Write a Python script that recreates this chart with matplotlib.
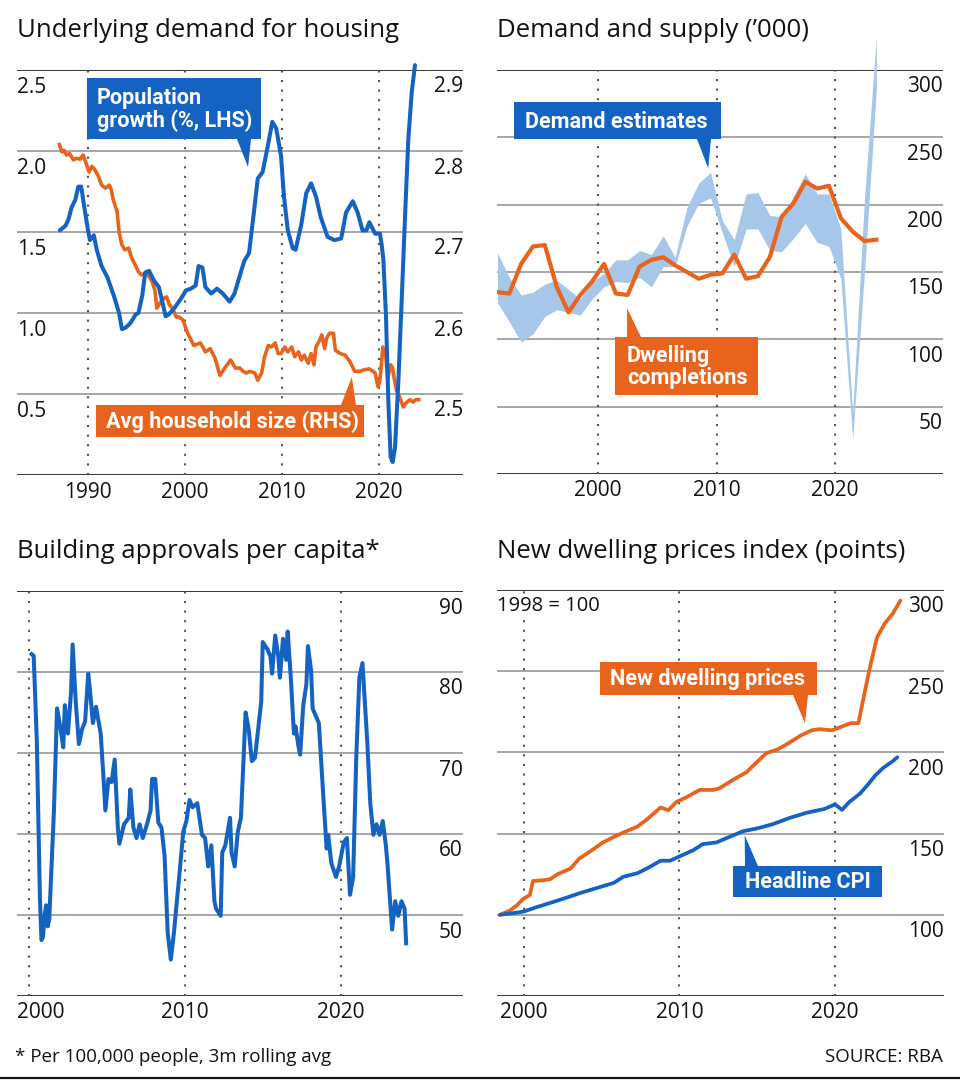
import matplotlib
matplotlib.use("Agg")
import matplotlib.pyplot as plt
from matplotlib.patches import Polygon

# ---------------- data ----------------
# Underlying demand: population growth (% , LHS)
pop_years = [1987.1, 1987.7, 1988.0, 1988.3, 1988.7, 1989.0, 1989.3, 1989.6, 1990.0, 1990.2,
             1990.6, 1990.9, 1991.4, 1992.0, 1992.7, 1993.2, 1993.5, 1993.9, 1994.4, 1994.9,
             1995.2, 1995.6, 1995.9, 1996.3, 1996.8, 1997.3, 1997.7, 1998.0, 1998.3, 1998.9,
             1999.6, 2000.1, 2000.6, 2001.1, 2001.4, 2001.8, 2002.1, 2002.7, 2003.3, 2003.9,
             2004.6, 2005.1, 2005.6, 2006.1, 2006.6, 2007.1, 2007.5, 2008.0, 2008.5, 2009.0,
             2009.4, 2009.9, 2010.2, 2010.6, 2011.1, 2011.4, 2012.0, 2012.5, 2013.0, 2013.5,
             2014.0, 2014.7, 2015.4, 2016.1, 2016.6, 2017.3, 2017.8, 2018.3, 2018.7, 2019.0,
             2019.6, 2020.1, 2020.3, 2020.45, 2020.72, 2020.96, 2021.2, 2021.41, 2021.65, 2021.99,
             2022.34, 2022.68, 2023.02, 2023.37, 2023.71]
pop_growth = [1.51, 1.54, 1.58, 1.65, 1.70, 1.78, 1.78, 1.66, 1.51, 1.45,
              1.48, 1.39, 1.29, 1.22, 1.10, 1.00, 0.90, 0.91, 0.94, 0.99,
              1.00, 1.11, 1.25, 1.26, 1.20, 1.16, 1.06, 0.98, 0.99, 1.03,
              1.09, 1.14, 1.15, 1.17, 1.29, 1.28, 1.16, 1.12, 1.15, 1.12,
              1.07, 1.12, 1.22, 1.32, 1.37, 1.62, 1.83, 1.87, 2.02, 2.18,
              2.14, 1.97, 1.72, 1.51, 1.40, 1.39, 1.55, 1.74, 1.80, 1.72,
              1.59, 1.47, 1.45, 1.46, 1.62, 1.69, 1.62, 1.51, 1.51, 1.56,
              1.49, 1.49, 1.41, 1.33, 0.98, 0.46, 0.11, 0.08, 0.17, 0.57,
              1.08, 1.59, 2.07, 2.36, 2.53]

# Average household size (RHS)
hh_years = [1987.05, 1987.3, 1987.5, 1987.8, 1988.1, 1988.5, 1988.8, 1989.2, 1989.5, 1989.8,
            1990.1, 1990.4, 1990.7, 1991.1, 1991.4, 1991.8, 1992.2, 1992.4, 1992.6, 1993.0,
            1993.2, 1993.5, 1993.8, 1994.2, 1994.5, 1994.8, 1995.2, 1995.5, 1995.9, 1996.2,
            1996.6, 1996.9, 1997.1, 1997.4, 1997.8, 1998.1, 1998.4, 1998.7, 1999.1, 1999.4,
            1999.8, 2000.2, 2000.9, 2001.6, 2002.1, 2002.6, 2003.1, 2003.6, 2004.1, 2004.7,
            2005.2, 2005.65, 2006.0, 2006.3, 2006.7, 2007.2, 2007.5, 2007.9, 2008.2, 2008.6,
            2008.9, 2009.3, 2009.6, 2009.9, 2010.3, 2010.6, 2011.0, 2011.3, 2011.7, 2012.0,
            2012.3, 2012.7, 2013.0, 2013.3, 2013.5, 2013.9, 2014.1, 2014.4, 2014.6, 2014.9,
            2015.3, 2015.5, 2016.0, 2016.5, 2017.0, 2017.5, 2018.0, 2018.5, 2019.0, 2019.6,
            2019.9, 2020.1, 2020.4, 2020.7, 2020.9, 2021.2, 2021.4, 2021.6, 2021.8, 2022.1,
            2022.5, 2022.8, 2023.2, 2023.5, 2023.8, 2024.1]
hh_size = [2.808, 2.799, 2.801, 2.795, 2.797, 2.789, 2.791, 2.790, 2.795, 2.785,
           2.774, 2.781, 2.777, 2.768, 2.758, 2.754, 2.758, 2.752, 2.740, 2.725,
           2.700, 2.684, 2.678, 2.680, 2.668, 2.661, 2.651, 2.647, 2.649, 2.647,
           2.639, 2.628, 2.606, 2.612, 2.618, 2.620, 2.610, 2.606, 2.595, 2.595,
           2.591, 2.577, 2.560, 2.563, 2.552, 2.556, 2.544, 2.523, 2.532, 2.542,
           2.532, 2.532, 2.528, 2.526, 2.528, 2.526, 2.517, 2.526, 2.546, 2.560,
           2.558, 2.563, 2.550, 2.550, 2.558, 2.552, 2.558, 2.546, 2.552, 2.542,
           2.548, 2.538, 2.550, 2.536, 2.558, 2.567, 2.573, 2.556, 2.569, 2.575,
           2.575, 2.554, 2.550, 2.548, 2.540, 2.528, 2.528, 2.530, 2.531, 2.526,
           2.509, 2.517, 2.558, 2.546, 2.519, 2.536, 2.532, 2.517, 2.505, 2.497,
           2.484, 2.489, 2.493, 2.490, 2.493, 2.493]

# Demand and supply ('000), financial-year midpoints
ds_years = [1991.5 + i for i in range(33)]
completions = [135, 134, 156, 169, 170, 139, 120, 133, 143, 156,
               134, 133, 154, 159, 161, 155, 150, 145, 148, 149,
               163, 145, 147, 161, 191, 201, 217, 212, 214, 190,
               180, 173, 174]
demand_high = [164, 146, 133, 135, 141, 144, 137, 130, 143, 149,
               159, 159, 166, 163, 177, 161, 198, 216, 224, 188,
               174, 208, 209, 192, 191, 206, 223, 208, 208, 182,
               45, 205, 325]
demand_low = [127, 113, 98, 104, 117, 122, 120, 118, 130, 139,
              143, 142, 146, 139, 154, 154, 184, 201, 205, 179,
              154, 182, 182, 166, 165, 175, 186, 172, 169, 145,
              26, 150, 285]

# Building approvals per 100,000 people (3m rolling avg)
ba_years = [2000.17, 2000.3, 2000.5, 2000.7, 2000.8, 2000.9, 2001.0, 2001.1, 2001.2, 2001.3,
            2001.6, 2001.8, 2002.0, 2002.2, 2002.3, 2002.5, 2002.7, 2002.8, 2003.0, 2003.2,
            2003.4, 2003.6, 2003.8, 2003.9, 2004.1, 2004.3, 2004.6, 2004.8, 2004.9, 2005.1,
            2005.3, 2005.5, 2005.7, 2005.8, 2006.1, 2006.4, 2006.5, 2006.7, 2006.9, 2007.1,
            2007.3, 2007.6, 2007.8, 2007.9, 2008.1, 2008.3, 2008.5, 2008.7, 2008.9, 2009.1,
            2009.3, 2009.4, 2009.7, 2009.9, 2010.1, 2010.3, 2010.5, 2010.8, 2010.9, 2011.1,
            2011.3, 2011.5, 2011.7, 2011.9, 2012.0, 2012.3, 2012.4, 2012.6, 2012.9, 2013.0,
            2013.2, 2013.4, 2013.6, 2013.9, 2014.1, 2014.3, 2014.5, 2014.7, 2014.9, 2015.0,
            2015.3, 2015.5, 2015.6, 2015.8, 2016.0, 2016.1, 2016.3, 2016.5, 2016.6, 2016.8,
            2017.0, 2017.1, 2017.3, 2017.4, 2017.6, 2017.8, 2017.9, 2018.1, 2018.2, 2018.4,
            2018.6, 2018.9, 2019.1, 2019.2, 2019.4, 2019.7, 2019.9, 2020.2, 2020.4, 2020.6,
            2020.8, 2021.0, 2021.2, 2021.4, 2021.7, 2021.9, 2022.1, 2022.3, 2022.5, 2022.7,
            2022.9, 2023.0, 2023.3, 2023.5, 2023.7, 2023.9, 2024.1, 2024.2]
approvals = [82.2, 82.0, 71.6, 52.1, 46.9, 47.3, 49.9, 51.2, 48.6, 49.5,
             62.9, 75.5, 73.3, 70.7, 75.9, 72.4, 77.6, 83.4, 76.3, 71.1,
             72.9, 73.9, 79.8, 78.0, 73.7, 75.7, 72.4, 66.4, 62.9, 66.8,
             66.4, 69.2, 60.8, 58.8, 61.2, 62.0, 65.5, 60.8, 59.5, 61.2,
             59.5, 61.4, 62.9, 66.8, 66.8, 61.4, 60.8, 57.3, 47.8, 44.5,
             47.8, 49.9, 56.0, 60.3, 61.6, 64.2, 63.3, 63.8, 62.5, 59.9,
             59.5, 56.0, 58.6, 51.7, 50.8, 49.9, 57.7, 58.6, 62.0, 57.7,
             56.0, 60.3, 62.0, 75.0, 72.9, 69.0, 69.4, 72.9, 76.3, 83.7,
             82.8, 81.9, 79.8, 84.5, 81.9, 79.3, 84.1, 81.5, 85.0, 79.3,
             72.4, 73.3, 70.7, 69.8, 75.9, 78.5, 83.2, 80.2, 75.5, 74.6,
             73.7, 64.2, 58.2, 59.9, 56.4, 54.7, 56.0, 59.0, 59.5, 52.5,
             54.7, 69.4, 79.3, 81.1, 71.6, 63.8, 59.9, 61.2, 59.9, 61.6,
             58.6, 56.4, 48.2, 51.7, 49.9, 51.7, 50.8, 46.5]

# New dwelling prices index vs headline CPI (1998 = 100)
ndp_years = [1998.48, 1999.1, 1999.55, 2000.0, 2000.4, 2000.6, 2001.2, 2001.7, 2002.2, 2003.0,
             2003.6, 2004.3, 2005.1, 2006.0, 2006.6, 2007.3, 2007.9, 2008.8, 2009.3, 2009.8,
             2010.5, 2011.3, 2012.2, 2012.6, 2013.5, 2014.3, 2015.0, 2015.6, 2016.3, 2016.9,
             2017.8, 2018.5, 2019.0, 2019.8, 2020.3, 2021.0, 2021.5, 2021.8, 2022.2, 2022.7,
             2023.2, 2023.7, 2024.2]
ndp = [100.0, 102.5, 105.7, 110.0, 112.2, 120.8, 121.2, 121.9, 125.1, 128.4,
       134.8, 139.2, 144.6, 148.9, 151.5, 154.3, 158.6, 166.1, 164.4, 169.4,
       172.6, 176.9, 176.9, 178.0, 183.4, 187.7, 194.2, 199.6, 201.8, 205.0,
       210.4, 213.6, 214.3, 213.6, 215.4, 218.0, 218.0, 232.0, 250.6, 270.9,
       279.5, 285.3, 293.5]
cpi_years = [1998.48, 1999.3, 2000.0, 2000.8, 2001.9, 2002.8, 2003.6, 2004.7, 2005.8, 2006.4,
             2007.3, 2007.9, 2008.8, 2009.4, 2010.0, 2010.9, 2011.5, 2012.4, 2013.0, 2014.1,
             2015.0, 2016.0, 2017.1, 2018.2, 2019.3, 2020.0, 2020.45, 2020.9, 2021.6, 2022.1,
             2022.6, 2023.1, 2023.7, 2024.0]
cpi = [100.0, 101.0, 102.0, 104.6, 107.9, 110.7, 113.3, 116.5, 119.7, 123.4,
       125.6, 128.4, 133.3, 133.3, 135.9, 139.8, 143.5, 144.6, 147.1, 151.5,
       153.2, 155.8, 159.7, 162.9, 165.1, 168.0, 164.6, 169.3, 174.6, 180.0,
       186.0, 190.5, 194.5, 197.0]

# ---------------- style ----------------
BLUE = "#1462c2"
ORANGE = "#e8631c"
BAND = "#a7c7ea"
GRID = "#8e8e8e"
INK = "#121212"
W, H = 960, 1080
REG = ["Open Sans", "DejaVu Sans"]
BOLD = ["Roboto", "DejaVu Sans"]
TICK = 15

plt.rcParams["font.family"] = REG
fig = plt.figure(figsize=(W / 100, H / 100), dpi=100)
fig.patch.set_facecolor("white")


def px(x, y):
    return (x / W, 1 - y / H)


def panel(x0, y0, x1, y1, xlim, ylim):
    ax = fig.add_axes([x0 / W, 1 - y1 / H, (x1 - x0) / W, (y1 - y0) / H])
    for s in ax.spines.values():
        s.set_visible(False)
    ax.set_xticks([])
    ax.set_yticks([])
    ax.patch.set_alpha(0)
    ax.set_xlim(xlim)
    ax.set_ylim(ylim)
    return ax


def frame(ax, grid, decades):
    lo, hi = ax.get_ylim()
    for g in grid:
        ax.axhline(g, color=GRID, lw=1.1, zorder=1)
    ax.axhline(hi, color=INK, lw=1.2, zorder=1)
    ax.axhline(lo, color=INK, lw=1.2, zorder=1)
    for d in decades:
        ax.axvline(d, color="#555555", lw=1.5, ls=(0, (1, 3.6)), zorder=1)


def ylabels(ax, values, side, fmt):
    for v in values:
        xa, ha = (0, "left") if side == "left" else (1, "right")
        ax.annotate(fmt.format(v), xy=(xa, v), xycoords=("axes fraction", "data"),
                    xytext=(0, -17), textcoords="offset pixels", ha=ha, va="center",
                    fontsize=TICK, color=INK)


def xlabels(ax, years, first_left=False):
    for i, yr in enumerate(years):
        if first_left and i == 0:
            ax.annotate(str(yr), xy=(0, 0), xycoords="axes fraction", xytext=(0, -17),
                        textcoords="offset pixels", ha="left", va="center",
                        fontsize=TICK, color=INK)
        else:
            ax.annotate(str(yr), xy=(yr, 0), xycoords=("data", "axes fraction"),
                        xytext=(0, -17), textcoords="offset pixels", ha="center",
                        va="center", fontsize=TICK, color=INK)


def callout(ax, box, base, tip, color, text, tx, down=True):
    x0, y0, x1, y1 = box
    tipf = fig.transFigure.inverted().transform(ax.transData.transform(tip))
    if down:
        pts = [px(x0, y0), px(x1, y0), px(x1, y1), px(base[1], y1), tuple(tipf),
               px(base[0], y1), px(x0, y1)]
    else:
        pts = [px(x0, y1), px(x1, y1), px(x1, y0), px(base[1], y0), tuple(tipf),
               px(base[0], y0), px(x0, y0)]
    fig.add_artist(Polygon(pts, closed=True, facecolor=color, edgecolor="none",
                           transform=fig.transFigure, zorder=5))
    fig.text(*px(tx, (y0 + y1) / 2 + 1), text, color="white", fontsize=15.6,
             fontweight="bold", family=BOLD, ha="left", va="center",
             linespacing=1.0, zorder=6)


def title(x, y, s):
    fig.text(*px(x, y), s, fontsize=18.5, color=INK, ha="left", va="baseline")


# ---------------- panel 1: underlying demand ----------------
ax1r = panel(17, 70, 463, 475, (1982.68, 2028.66), (2.4, 2.9))
frame(ax1r, [2.5, 2.6, 2.7, 2.8], [1990, 2000, 2010, 2020])
ax1r.plot(hh_years, hh_size, color=ORANGE, lw=2.6, zorder=3, solid_joinstyle="round")
ax1 = panel(17, 70, 463, 475, (1982.68, 2028.66), (0, 2.5))
ax1.plot(pop_years, pop_growth, color=BLUE, lw=2.9, zorder=4, clip_on=False,
         solid_joinstyle="round", solid_capstyle="round")
ylabels(ax1, [2.5, 2.0, 1.5, 1.0, 0.5], "left", "{:.1f}")
ylabels(ax1r, [2.9, 2.8, 2.7, 2.6, 2.5], "right", "{:.1f}")
xlabels(ax1, [1990, 2000, 2010, 2020])
title(17, 37, "Underlying demand for housing")
callout(ax1, (87, 78, 261, 139), (237, 251), (2006.5, 1.90), BLUE,
        "Population\ngrowth (%, LHS)", 97, down=True)
callout(ax1r, (96, 405, 364, 437), (341, 356), (2017.2, 2.521), ORANGE,
        "Avg household size (RHS)", 106, down=False)

# ---------------- panel 2: demand and supply ----------------
ax2 = panel(497, 70, 943, 474, (1991.46, 2029.13), (0, 300))
frame(ax2, [50, 100, 150, 200, 250], [2000, 2010, 2020])
ax2.fill_between(ds_years, demand_low, demand_high, color=BAND, lw=0, zorder=2,
                 clip_on=False)
ax2.plot(ds_years, completions, color=ORANGE, lw=3.0, zorder=3, solid_joinstyle="round")
ylabels(ax2, [300, 250, 200, 150, 100, 50], "right", "{:d}")
xlabels(ax2, [2000, 2010, 2020])
title(497, 37, "Demand and supply (\u2019000)")
callout(ax2, (514, 102, 721, 139), (697, 711), (2009.3, 227), BLUE,
        "Demand estimates", 525, down=True)
callout(ax2, (615, 337, 758, 395), (627, 641), (2002.45, 123), ORANGE,
        "Dwelling\ncompletions", 627, down=False)

# ---------------- panel 3: building approvals ----------------
ax3 = panel(17, 591, 463, 996, (1999.23, 2027.85), (40, 90))
frame(ax3, [50, 60, 70, 80], [2000, 2010, 2020])
ax3.plot(ba_years, approvals, color=BLUE, lw=2.9, zorder=3, solid_joinstyle="round")
ylabels(ax3, [90, 80, 70, 60, 50], "right", "{:d}")
xlabels(ax3, [2000, 2010, 2020], first_left=True)
title(17, 558, "Building approvals per capita*")

# ---------------- panel 4: new dwelling prices ----------------
ax4 = panel(497, 590, 944, 996, (1998.29, 2027.0), (50, 300))
frame(ax4, [100, 150, 200, 250], [2000, 2010, 2020])
ax4.plot(ndp_years, ndp, color=ORANGE, lw=2.7, zorder=3, solid_joinstyle="round",
         solid_capstyle="round")
ax4.plot(cpi_years, cpi, color=BLUE, lw=2.7, zorder=3, solid_joinstyle="round",
         solid_capstyle="round")
ylabels(ax4, [300, 250, 200, 150, 100], "right", "{:d}")
xlabels(ax4, [2000, 2010, 2020])
title(497, 558, "New dwelling prices index (points)")
fig.text(*px(497, 606), "1998 = 100", fontsize=TICK - 0.5, color=INK, ha="left",
         va="center", bbox=dict(facecolor="white", edgecolor="none", pad=1.5), zorder=4)
callout(ax4, (600, 662, 817, 695), (793, 808), (2018.07, 218), ORANGE,
        "New dwelling prices", 610, down=True)
callout(ax4, (733, 866, 882, 897), (745, 758), (2014.2, 149), BLUE,
        "Headline CPI", 745, down=False)

# ---------------- footer ----------------
fig.text(*px(15, 1057), "* Per 100,000 people, 3m rolling avg", fontsize=13.5,
         color=INK, ha="left", va="center")
fig.text(*px(943, 1057), "SOURCE: RBA", fontsize=13.5, color=INK, ha="right", va="center")
fig.add_artist(plt.Line2D([0, 1], [1 - 1078 / H, 1 - 1078 / H], color=INK, lw=1.6,
                          transform=fig.transFigure))

fig.savefig("out.png", dpi=100, facecolor="white")
